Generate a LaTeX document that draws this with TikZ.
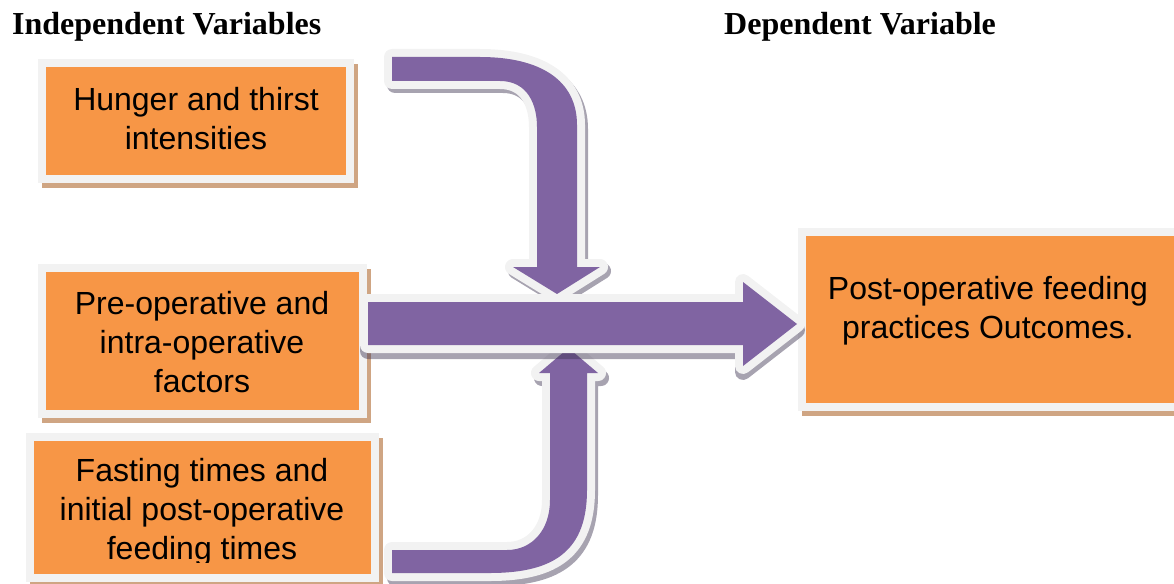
\documentclass[tikz,border=0pt]{standalone}
\usepackage{fontspec}
\usetikzlibrary{backgrounds}
\newfontfamily\arialf{Liberation Sans}
\newfontfamily\timesf{Liberation Serif}
\definecolor{boxorange}{HTML}{F79646}
\definecolor{framegrey}{HTML}{F2F2F2}
\definecolor{boxshadow}{HTML}{CFA583}
\definecolor{arrowpurple}{HTML}{8064A2}
\definecolor{arrowshadow}{RGB}{60,50,80}
\tikzset{
  boxframe/.style={draw=framegrey, line width=8pt, fill=boxorange, inner sep=0pt, outer sep=0pt},
  lbl/.style={font=\arialf\fontsize{32}{39}\selectfont, align=center, inner sep=0pt},
  ttl/.style={font=\timesf\bfseries\fontsize{32}{38}\selectfont, anchor=base west, inner sep=0pt},
  bshadow/.style={fill=boxshadow},
  aoutline/.style={draw=framegrey, line width=16pt, line join=round},
  afill/.style={fill=arrowpurple},
  ashadow/.style={draw=arrowshadow, fill=arrowshadow, line width=16pt, line join=round},
}
\newcommand\toparrowpath[1]{\path[#1] (392,57) -- (480,57) .. controls (540,57) and (577,80) .. (577,125)
  -- (577,267) -- (600,267) -- (557,294) -- (513,267) -- (537,267) -- (537,127)
  .. controls (537,105) and (528,81) .. (500,81) -- (392,81) -- cycle;}
\newcommand\botarrowpath[1]{\path[#1] (392,550) -- (507,550) .. controls (532,550) and (550,530) .. (550,500)
  -- (550,373) -- (539,373) -- (568.5,348) -- (598,373) -- (587,373) -- (587,490)
  .. controls (587,550) and (555,573) .. (490,573) -- (392,573) -- cycle;}
\newcommand\midarrowpath[1]{\path[#1] (368,302) -- (743,302) -- (743,282) -- (797,324) -- (743,366)
  -- (743,345) -- (368,345) -- cycle;}
\begin{document}
\begin{tikzpicture}[x=1pt,y=-1pt]
\useasboundingbox (0,0) rectangle (1174,583);
\clip (0,0) rectangle (1174,583);
\node[ttl] (ttlA) at (12,35) {Independent Variables};
\node[ttl] (ttlB) at (724,35) {Dependent Variable};
\node[boxframe, minimum width=308pt, minimum height=116pt] (b1) at (196,121) {};
\node[boxframe, minimum width=321pt, minimum height=146pt] (b2) at (202.5,341) {};
\node[boxframe, minimum width=345pt, minimum height=141pt] (b3) at (202.5,507.5) {};
\node[boxframe, minimum width=383pt, minimum height=175pt] (b4) at (993.5,319.5) {};
\begin{scope}[on background layer]
  \foreach \b in {b1,b2,b3,b4}
    \fill[bshadow] ([shift={(0,1)}]\b.north west) rectangle ([shift={(8,9)}]\b.south east);
\end{scope}
\node[lbl] (t1) at (196,119) {Hunger and thirst\\intensities};
\node[lbl] (t2) at (202,342) {Pre-operative and\\intra-operative\\factors};
\begin{scope}
  \clip (0,0) rectangle (1174,562);
  \node[lbl] (t3) at (202,512) {Fasting times and\\initial post-operative\\feeding times};
\end{scope}
\node[lbl] (t4) at (988,311) {Post-operative feeding\\practices Outcomes.};
% top bent arrow
\begin{scope}[transparency group, opacity=0.45]
  \toparrowpath{ashadow, shift={(3,4)}}
\end{scope}
\toparrowpath{aoutline}
\toparrowpath{afill}
% bottom bent arrow
\begin{scope}[transparency group, opacity=0.45]
  \botarrowpath{ashadow, shift={(3,5)}}
\end{scope}
\botarrowpath{aoutline}
\botarrowpath{afill}
% middle arrow
\begin{scope}[transparency group, opacity=0.45]
  \midarrowpath{ashadow, shift={(0,6)}}
\end{scope}
\midarrowpath{aoutline}
\midarrowpath{afill}
\end{tikzpicture}
\end{document}
